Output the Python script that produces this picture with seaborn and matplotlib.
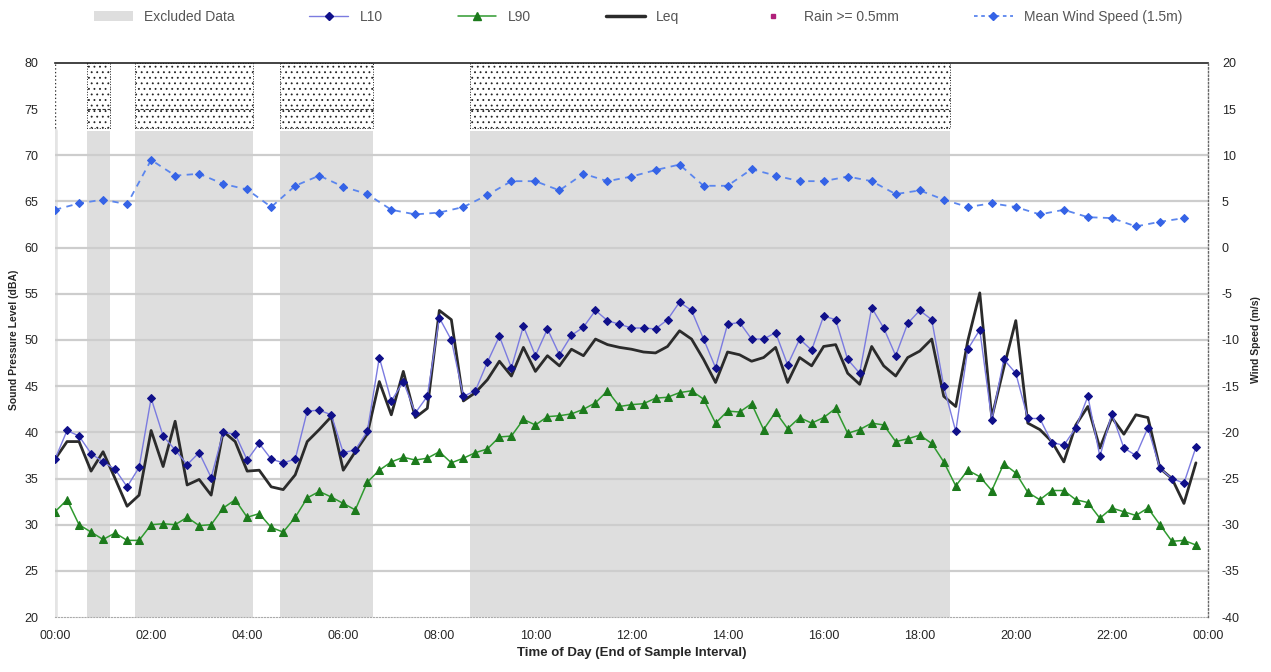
import numpy as np
import pandas as pd
import matplotlib
matplotlib.use("Agg")
import matplotlib.pyplot as plt
from matplotlib.lines import Line2D
from matplotlib.patches import Patch
import seaborn as sns

# ---------------- data ----------------
L10 = [37.1, 40.2, 39.6, 37.7, 36.8, 36.0, 34.1, 36.2, 43.7, 39.6, 38.1, 36.5, 37.8, 35.1, 40.0, 39.8,
       37.0, 38.8, 37.1, 36.7, 37.1, 42.3, 42.4, 41.9, 37.8, 38.1, 40.1, 48.1, 43.4, 45.5, 42.1, 43.9,
       52.4, 50.0, 43.9, 44.5, 47.6, 50.4, 47.0, 51.5, 48.3, 51.2, 48.4, 50.5, 51.4, 53.2, 52.1, 51.7,
       51.3, 51.3, 51.2, 52.2, 54.1, 53.2, 50.1, 47.0, 51.7, 51.9, 50.1, 50.1, 50.8, 47.3, 50.1, 48.9,
       52.6, 52.2, 47.9, 46.4, 53.5, 51.3, 48.3, 51.8, 53.2, 52.2, 45.0, 40.1, 49.0, 51.1, 41.3, 47.9,
       46.4, 41.5, 41.5, 38.9, 38.6, 40.5, 43.9, 37.4, 42.0, 38.3, 37.5, 40.5, 36.1, 35.0, 34.5, 38.4]
LEQ = [37.1, 39.0, 39.0, 35.8, 37.9, 35.0, 32.0, 33.2, 40.2, 36.3, 41.2, 34.3, 34.9, 33.2, 40.1, 39.0,
       35.8, 35.9, 34.1, 33.8, 35.4, 39.0, 40.3, 41.7, 35.9, 37.9, 39.8, 45.5, 41.9, 46.6, 41.6, 42.6,
       53.2, 52.2, 43.4, 44.3, 45.7, 47.7, 46.1, 49.2, 46.6, 48.3, 47.2, 49.0, 48.3, 50.1, 49.5, 49.2,
       49.0, 48.7, 48.6, 49.3, 51.0, 50.1, 47.9, 45.4, 48.7, 48.4, 47.7, 48.1, 49.2, 45.4, 48.1, 47.2,
       49.3, 49.5, 46.4, 45.2, 49.3, 47.2, 46.1, 48.1, 48.8, 50.1, 43.9, 42.8, 49.9, 55.1, 41.6, 47.0,
       52.1, 41.0, 40.3, 39.0, 36.8, 40.8, 42.8, 38.3, 41.6, 39.8, 41.9, 41.6, 36.1, 35.0, 32.3, 36.7]
L90 = [31.4, 32.7, 30.0, 29.2, 28.4, 29.1, 28.3, 28.3, 30.0, 30.1, 30.0, 30.8, 29.9, 30.0, 31.8, 32.7,
       30.8, 31.2, 29.7, 29.2, 30.8, 32.9, 33.6, 33.0, 32.3, 31.6, 34.6, 35.9, 36.8, 37.3, 37.0, 37.2,
       37.9, 36.7, 37.2, 37.8, 38.2, 39.5, 39.6, 41.4, 40.8, 41.7, 41.8, 42.0, 42.5, 43.2, 44.5, 42.8,
       43.0, 43.1, 43.7, 43.8, 44.3, 44.5, 43.6, 41.0, 42.3, 42.2, 43.1, 40.3, 42.2, 40.4, 41.6, 41.0,
       41.6, 42.6, 39.9, 40.3, 41.0, 40.8, 39.0, 39.3, 39.7, 38.8, 36.8, 34.2, 35.9, 35.2, 33.7, 36.6,
       35.6, 33.5, 32.7, 33.7, 33.7, 32.7, 32.4, 30.7, 31.8, 31.4, 31.0, 31.8, 30.0, 28.2, 28.3, 27.8]
WIND = [4.1, 4.8, 5.2, 4.7, 9.5, 7.8, 8.0, 6.9, 6.3, 4.4, 6.7, 7.8, 6.6, 5.8, 4.1, 3.6,
        3.8, 4.4, 5.7, 7.2, 7.2, 6.2, 8.0, 7.2, 7.7, 8.4, 9.0, 6.7, 6.7, 8.5, 7.8, 7.2,
        7.2, 7.7, 7.2, 5.8, 6.2, 5.2, 4.4, 4.8, 4.4, 3.6, 4.1, 3.3, 3.2, 2.3, 2.8, 3.2]
RAIN = []  # no rain events
EXCL_START = [0.67, 1.67, 4.68, 8.64]
EXCL_END = [1.15, 4.12, 6.61, 18.63]
XTICK_LABELS = ["00:00", "02:00", "04:00", "06:00", "08:00", "10:00", "12:00",
                "14:00", "16:00", "18:00", "20:00", "22:00", "00:00"]
LEFT_TICKS = [20, 25, 30, 35, 40, 45, 50, 55, 60, 65, 70, 75, 80]
RIGHT_TICKS = [-40, -35, -30, -25, -20, -15, -10, -5, 0, 5, 10, 15, 20]

t_noise = np.arange(len(L10)) * 0.25
t_wind = np.arange(len(WIND)) * 0.5
df = pd.DataFrame({"t": t_noise, "L10": L10, "Leq": LEQ, "L90": L90})
dw = pd.DataFrame({"t": t_wind, "wind": WIND})

# ---------------- figure ----------------
sns.set_style("white")
plt.rcParams["font.family"] = ["Liberation Sans", "DejaVu Sans"]
plt.rcParams["hatch.linewidth"] = 0.6
fig = plt.figure(figsize=(12.71, 6.72), dpi=100)
ax = fig.add_axes([0.0433, 0.0818, 0.9071, 0.8245])
ax2 = ax.twinx()

GRAY_TOP = 72.6
STIP_BOT = 73.0
for s, e in zip(EXCL_START, EXCL_END):
    ax.fill_between([s, e], 20, GRAY_TOP, color="#dedede", lw=0, zorder=0)
    ax.fill_between([s, e], STIP_BOT, 80, facecolor="white", edgecolor="#222222",
                    hatch="...", lw=0.7, linestyle=":", zorder=0.2)
    ax.hlines(75, s, e, colors="#333333", linestyles=(0, (3, 1.5)), lw=0.8, zorder=0.3)

# horizontal grid in the lower block
for v in LEFT_TICKS[1:-2]:
    ax.axhline(v, color="#cdcdcd", lw=1.6, zorder=0.5)

# series
sns.lineplot(data=df, x="t", y="L90", ax=ax, color="#2f9a2f", lw=1.1, marker="^",
             markersize=5.5, markerfacecolor="#1c7a1c", markeredgecolor="#1c7a1c", zorder=3)
sns.lineplot(data=df, x="t", y="Leq", ax=ax, color="#2b2b2b", lw=2.0, zorder=4)
sns.lineplot(data=df, x="t", y="L10", ax=ax, color="#7b7be0", lw=1.0, marker="D",
             markersize=4.2, markerfacecolor="#10108a", markeredgecolor="#10108a", zorder=5)
sns.lineplot(data=dw, x="t", y="wind", ax=ax2, color="#5b86ee", lw=1.3, linestyle=(0, (3.5, 3)),
             marker="D", markersize=3.8, markerfacecolor="#3563e6", markeredgecolor="#3563e6", zorder=5)

# axes limits / ticks
ax.set_xlim(0, 24)
ax.set_ylim(20, 80)
ax2.set_ylim(-40, 20)
ax.set_xticks(np.arange(0, 25, 2))
ax.set_xticklabels(XTICK_LABELS, fontsize=9)
ax.set_xticks(np.arange(0, 24.01, 0.5), minor=True)
ax.set_yticks(LEFT_TICKS)
ax.set_yticklabels([str(v) for v in LEFT_TICKS], fontsize=9)
ax2.set_yticks(RIGHT_TICKS)
ax2.set_yticklabels([str(v) for v in RIGHT_TICKS], fontsize=9)
ax.tick_params(axis="x", which="major", length=3, color="#999999", pad=6)
ax.tick_params(axis="x", which="minor", length=2, color="#bbbbbb")
ax.tick_params(axis="y", length=0, pad=12)
ax2.tick_params(axis="y", length=0, pad=10)

ax.set_xlabel("Time of Day (End of Sample Interval)", fontsize=9.5, fontweight="bold", labelpad=4)
ax.set_ylabel("Sound Pressure Level (dBA)", fontsize=7.5, fontweight="bold", labelpad=4)
ax2.set_ylabel("Wind Speed (m/s)", fontsize=7.5, fontweight="bold", rotation=90, labelpad=8)

for a in (ax, ax2):
    for sp in a.spines.values():
        sp.set_visible(False)
ax.spines["top"].set_visible(True)
ax.spines["top"].set_color("#222222")
ax.spines["top"].set_linewidth(1.2)
ax.spines["bottom"].set_visible(True)
ax.spines["bottom"].set_color("#aaaaaa")
ax.spines["bottom"].set_linestyle(":")
ax2.spines["right"].set_visible(True)
ax2.spines["right"].set_color("#666666")
ax2.spines["right"].set_linestyle(":")
ax2.spines["right"].set_linewidth(1.0)
ax.axvline(0, ymin=(STIP_BOT - 20) / 60, ymax=1, color="#333333", ls=":", lw=1.0, zorder=1)
ax.axvline(0, ymin=0, ymax=(GRAY_TOP - 20) / 60, color="#e4e4e4", lw=4, zorder=0.4)

# legend
handles = [
    Patch(facecolor="#dedede", edgecolor="none", label="Excluded Data"),
    Line2D([], [], color="#7b7be0", lw=1.0, marker="D", markersize=4.2,
           markerfacecolor="#10108a", markeredgecolor="#10108a", label="L10"),
    Line2D([], [], color="#2f9a2f", lw=1.1, marker="^", markersize=5.5,
           markerfacecolor="#1c7a1c", markeredgecolor="#1c7a1c", label="L90"),
    Line2D([], [], color="#2b2b2b", lw=2.5, label="Leq"),
    Line2D(RAIN, RAIN, color="#b0207a", lw=0, marker="s", markersize=2.5, label="Rain >= 0.5mm"),
    Line2D([], [], color="#5b86ee", lw=1.3, linestyle=(0, (2, 2)), marker="D", markersize=3.8,
           markerfacecolor="#3563e6", markeredgecolor="#3563e6", label="Mean Wind Speed (1.5m)"),
]
leg = fig.legend(handles=handles, loc="upper center", bbox_to_anchor=(0.502, 1.004), ncol=6,
                 frameon=False, fontsize=10, handlelength=2.8, columnspacing=5.4,
                 handletextpad=0.8)
for txt in leg.get_texts():
    txt.set_color("#555555")

fig.savefig("out.png", dpi=100)
